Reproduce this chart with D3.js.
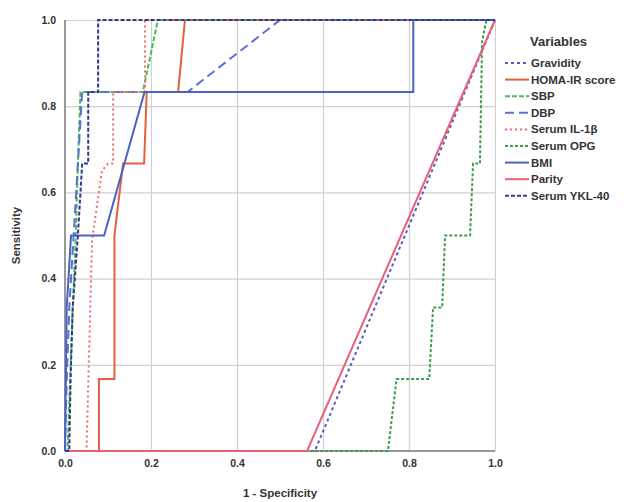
<!DOCTYPE html>
<meta charset="utf-8">
<head>
<style>
  body { margin: 0; background: #fff; }
  svg text { font-family: 'Liberation Sans', Arial, sans-serif; font-weight: bold; fill: #333; }
</style>
</head>
<body>
<div id="chart"></div>
<script src="https://d3js.org/d3.v7.min.js"></script>
<script>

// ROC points: [1 - specificity, sensitivity]
var gravidity = [[0,0],[0.581,0],[1,1]];
var homaIR = [[0,0],[0.079,0],[0.079,0.167],[0.115,0.167],[0.115,0.5],[0.135,0.667],[0.184,0.667],[0.19,0.833],[0.263,0.833],[0.279,1],[1,1]];
var sbp = [[0,0],[0.006,0],[0.012,0.167],[0.018,0.333],[0.025,0.5],[0.03,0.667],[0.036,0.833],[0.181,0.833],[0.216,1],[1,1]];
var dbp = [[0,0],[0.004,0.167],[0.01,0.333],[0.02,0.5],[0.03,0.667],[0.04,0.833],[0.285,0.833],[0.5,1],[1,1]];
var il1b = [[0,0],[0.05,0],[0.063,0.49],[0.086,0.65],[0.1,0.667],[0.112,0.667],[0.112,0.833],[0.186,0.833],[0.186,1],[1,1]];
var opg = [[0,0],[0.751,0],[0.771,0.167],[0.847,0.167],[0.856,0.333],[0.877,0.333],[0.884,0.5],[0.942,0.5],[0.949,0.667],[0.965,0.667],[0.97,0.95],[0.98,1],[1,1]];
var bmi = [[0,0],[0.002,0.167],[0.004,0.333],[0.014,0.5],[0.091,0.5],[0.185,0.833],[0.81,0.833],[0.81,1],[1,1]];
var parity = [[0,0],[0.563,0],[1,1]];
var ykl40 = [[0,0],[0.01,0],[0.013,0.167],[0.018,0.333],[0.03,0.5],[0.04,0.667],[0.054,0.667],[0.054,0.833],[0.077,0.833],[0.077,1],[1,1]];

var varNames = ["Gravidity", "HOMA-IR score", "SBP", "DBP", "Serum IL-1\u03b2", "Serum OPG", "BMI", "Parity", "Serum YKL-40"];
var varData = [gravidity, homaIR, sbp, dbp, il1b, opg, bmi, parity, ykl40];
var varColors = ["#5a5cb8", "#e3603f", "#4cba5a", "#5b70d2", "#f06a6a", "#3f9a4c", "#4a62c2", "#e8607a", "#2e3a86"];
var varDash = ["3,3", null, "5,2", "9,5", "2,3", "3,2", null, null, "4,2"];
var ticks = [0, 0.2, 0.4, 0.6, 0.8, 1.0];

var width = 630, height = 502;
var margin = {top: 20, right: 135, bottom: 51, left: 65};

var svg = d3.select("#chart")
  .append("svg")
    .attr("width", width)
    .attr("height", height);

var x = d3.scaleLinear().domain([0, 1]).range([margin.left, width - margin.right]);
var y = d3.scaleLinear().domain([0, 1]).range([height - margin.bottom, margin.top]);

// grid
svg.append("g")
  .attr("transform", "translate(0," + y(0) + ")")
  .call(d3.axisBottom(x).tickValues(ticks.slice(1)).tickSize(-(y(0) - y(1))).tickFormat(""))
  .call(function(g) { g.select(".domain").remove(); })
  .selectAll("line").attr("stroke", "#d0d0d0").attr("stroke-width", 1.2);
svg.append("g")
  .attr("transform", "translate(" + x(0) + ",0)")
  .call(d3.axisLeft(y).tickValues(ticks.slice(1)).tickSize(-(x(1) - x(0))).tickFormat(""))
  .call(function(g) { g.select(".domain").remove(); })
  .selectAll("line").attr("stroke", "#d0d0d0").attr("stroke-width", 1.2);

// axis lines
svg.append("line")
  .attr("x1", x(0)).attr("x2", x(0)).attr("y1", y(1)).attr("y2", y(0))
  .attr("stroke", "#999").attr("stroke-width", 2);
svg.append("line")
  .attr("x1", x(0)).attr("x2", x(1)).attr("y1", y(0)).attr("y2", y(0))
  .attr("stroke", "#999").attr("stroke-width", 2);

// tick labels
var xAxis = svg.append("g")
  .attr("transform", "translate(0," + (y(0) + 4) + ")")
  .call(d3.axisBottom(x).tickValues(ticks).tickSize(0).tickFormat(d3.format(".1f")));
xAxis.select(".domain").remove();
xAxis.selectAll("text").style("font-size", "10.5px").attr("dy", "0.9em");

var yAxis = svg.append("g")
  .attr("transform", "translate(" + (x(0) - 6) + ",0)")
  .call(d3.axisLeft(y).tickValues(ticks).tickSize(0).tickFormat(d3.format(".1f")));
yAxis.select(".domain").remove();
yAxis.selectAll("text").style("font-size", "10.5px");

// axis titles
svg.append("text")
  .attr("x", (x(0) + x(1)) / 2)
  .attr("y", 497)
  .attr("text-anchor", "middle")
  .style("font-size", "11.5px")
  .text("1 - Specificity");
svg.append("text")
  .attr("transform", "translate(20," + (y(0.5)) + ") rotate(-90)")
  .attr("text-anchor", "middle")
  .style("font-size", "11.5px")
  .text("Sensitivity");

// curves
var line = d3.line()
  .x(function(d) { return x(d[0]); })
  .y(function(d) { return y(d[1]); });

svg.selectAll(".roc")
  .data(varData)
  .enter()
  .append("path")
    .attr("class", "roc")
    .attr("d", line)
    .attr("fill", "none")
    .attr("stroke", function(d, i) { return varColors[i]; })
    .attr("stroke-width", 2)
    .attr("stroke-dasharray", function(d, i) { return varDash[i]; });

// legend
var legend = svg.append("g").attr("transform", "translate(505,0)");
legend.append("text")
  .attr("x", 25).attr("y", 46)
  .style("font-size", "13px")
  .text("Variables");

var items = legend.selectAll(".item")
  .data(varNames)
  .enter()
  .append("g")
    .attr("class", "item")
    .attr("transform", function(d, i) { return "translate(0," + (63 + i * 16.6) + ")"; });
items.append("line")
  .attr("x1", 0).attr("x2", 24)
  .attr("stroke", function(d, i) { return varColors[i]; })
  .attr("stroke-width", 2)
  .attr("stroke-dasharray", function(d, i) { return varDash[i]; });
items.append("text")
  .attr("x", 26).attr("dy", "0.35em")
  .style("font-size", "11.5px")
  .text(function(d) { return d; });

</script>
</body>
